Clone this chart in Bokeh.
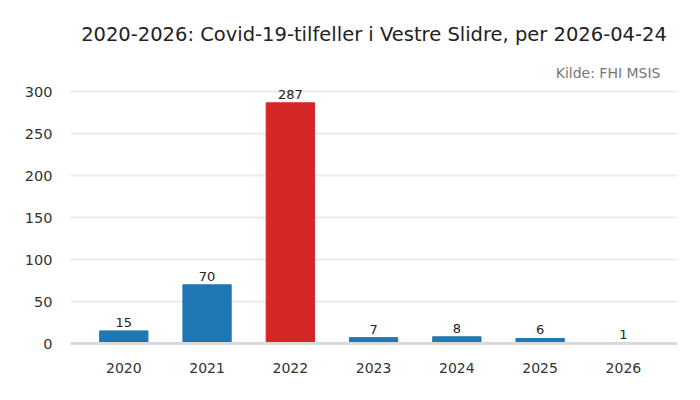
from bokeh.plotting import figure
from bokeh.models import ColumnDataSource, Title, Range1d, FixedTicker, LabelSet
from bokeh.core.properties import value
from bokeh.embed import file_html
from bokeh.resources import INLINE

years = [2020, 2021, 2022, 2023, 2024, 2025, 2026]
cases = [15, 70, 287, 7, 8, 6, 1]
year_labels = ["2020", "2021", "2022", "2023", "2024", "2025", "2026"]
y_ticks = [0, 50, 100, 150, 200, 250, 300]
title_text = "2020-2026: Covid-19-tilfeller i Vestre Slidre, per 2026-04-24"
source_text = "Kilde: FHI MSIS"

BLUE = "#1f77b4"
RED = "#d62728"
mx = max(cases)
colors = [RED if c == mx else BLUE for c in cases]

src = ColumnDataSource(dict(x=years, top=cases, color=colors, label=[str(c) for c in cases]))

p = figure(width=692, height=392, output_backend="svg", toolbar_location=None,
           title=None, x_range=Range1d(2019.36, 2026.65), y_range=Range1d(0, 310),
           min_border_left=70, min_border_right=15, min_border_bottom=49, min_border_top=83)

p.vbar(x="x", top="top", bottom=0, width=0.58, color="color", source=src)

labels = LabelSet(x="x", y="top", text="label", source=src, text_align="center",
                  text_baseline="bottom", y_offset=4, text_font=value("DejaVu Sans"),
                  text_font_size=value("13px"), text_color=value("#222222"))
p.add_layout(labels)

sub = Title(text=source_text, align="right", text_font="DejaVu Sans", text_font_size="14px",
            text_color="#777777", text_font_style="normal", offset=17, standoff=6)
p.add_layout(sub, "above")
main = Title(text=title_text, align="center", text_font="DejaVu Sans", text_font_size="19.5px",
             text_color="#222222", text_font_style="normal", standoff=28)
p.add_layout(main, "above")

p.outline_line_color = None
p.background_fill_color = "white"
p.border_fill_color = "white"

p.xaxis.ticker = FixedTicker(ticks=years)
p.xaxis.major_label_overrides = {y: l for y, l in zip(years, year_labels)}
p.xaxis.axis_line_color = "#d9d9d9"
p.xaxis.axis_line_width = 3
p.xaxis.major_tick_line_color = None
p.xaxis.minor_tick_line_color = None
p.xaxis.major_label_standoff = 13
p.xaxis.major_label_text_font = "DejaVu Sans"
p.xaxis.major_label_text_font_size = "14px"
p.xaxis.major_label_text_color = "#333333"

p.yaxis.ticker = FixedTicker(ticks=y_ticks)
p.yaxis.axis_line_color = None
p.yaxis.major_tick_line_color = None
p.yaxis.minor_tick_line_color = None
p.yaxis.major_tick_out = 0
p.yaxis.major_tick_in = 0
p.yaxis.major_label_standoff = 18
p.yaxis.major_label_text_font = "DejaVu Sans"
p.yaxis.major_label_text_font_size = "14.5px"
p.yaxis.major_label_text_color = "#333333"

p.xgrid.grid_line_color = None
p.ygrid.grid_line_color = "#ebebeb"
p.ygrid.grid_line_width = 2

open("out.html", "w").write(file_html(p, INLINE))
